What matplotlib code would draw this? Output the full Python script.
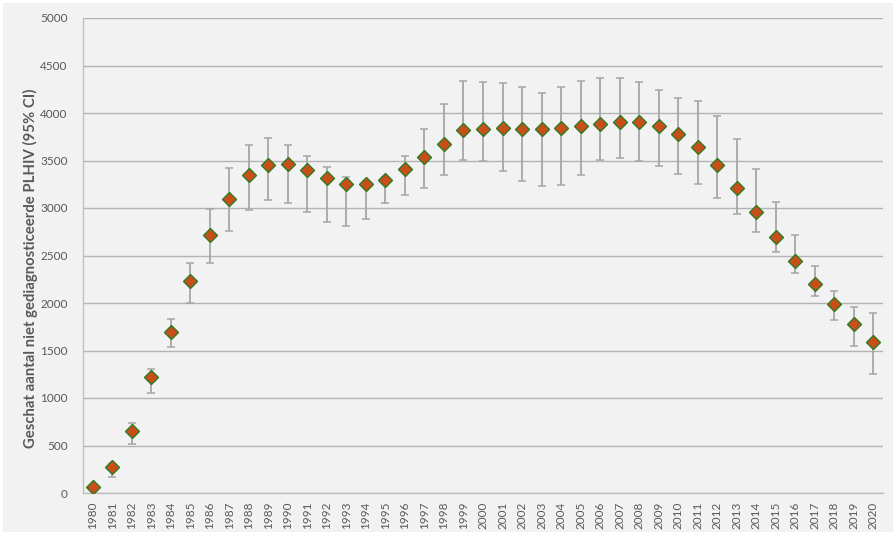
import numpy as np
import matplotlib
matplotlib.use('Agg')
import matplotlib.pyplot as plt
from matplotlib.patches import Rectangle

# jaartallen en schattingen
years = list(range(1980, 2021))
estimate = [60, 270, 656, 1224, 1698, 2231, 2716, 3095, 3344, 3456,
            3463, 3396, 3316, 3256, 3249, 3291, 3407, 3537, 3674, 3818,
            3832, 3839, 3835, 3835, 3842, 3863, 3884, 3902, 3902, 3867,
            3779, 3642, 3449, 3214, 2958, 2695, 2439, 2200, 1986, 1779,
            1586]
ci_low = [40, 168, 512, 1052, 1533, 2000, 2424, 2758, 2976, 3081,
          3053, 2954, 2849, 2811, 2888, 3049, 3140, 3214, 3344, 3509,
          3495, 3386, 3288, 3235, 3246, 3344, 3509, 3526, 3495, 3442,
          3361, 3249, 3105, 2940, 2744, 2533, 2319, 2077, 1825, 1551,
          1249]
ci_high = [80, 310, 740, 1305, 1828, 2421, 2989, 3418, 3667, 3733,
           3660, 3544, 3428, 3330, 3285, 3330, 3551, 3835, 4098, 4333,
           4330, 4319, 4274, 4207, 4277, 4333, 4365, 4368, 4330, 4239,
           4158, 4123, 3972, 3726, 3411, 3063, 2719, 2393, 2130, 1961,
           1898]

plt.rcParams['font.family'] = ['Lato', 'DejaVu Sans']

bg = '#f2f2f2'
txt = '#595959'
grid = '#b3b3b3'

fig = plt.figure(figsize=(8.96, 5.38), dpi=100)
fig.patch.set_facecolor('white')
fig.patches.append(Rectangle((3/896, 6/538), 890/896, 529/538, transform=fig.transFigure,
                             facecolor=bg, edgecolor='none', zorder=-1))
ax = fig.add_axes([83/896, 45/538, 800/896, 475/538])
ax.set_facecolor(bg)

x = np.arange(len(years))
est = np.array(estimate)
yerr = [est - np.array(ci_low), np.array(ci_high) - est]

ax.errorbar(x, est, yerr=yerr, fmt='none', ecolor='#a6a6a6', elinewidth=1.3,
            capsize=2.6, capthick=1.1, zorder=3)
ax.plot(x, est, linestyle='none', marker='D', markersize=7.6,
        markerfacecolor='#c84f1a', markeredgecolor='#2f7a24', markeredgewidth=1.0, zorder=4)

ax.set_xlim(-0.5, len(years) - 0.5)
ax.set_ylim(0, 5000)
ax.set_yticks(np.arange(0, 5001, 500))
ax.set_xticks(x)
ax.set_xticklabels([str(y) for y in years], rotation=90)
ax.tick_params(axis='x', length=0, pad=6, labelsize=8.5, labelcolor=txt)
ax.tick_params(axis='y', length=0, pad=11, labelsize=8.5, labelcolor=txt)

ax.grid(axis='y', color=grid, linewidth=1.0)
ax.set_axisbelow(True)
for s in ['top', 'right']:
    ax.spines[s].set_visible(False)
ax.spines['left'].set_color('#bfbfbf')
ax.spines['bottom'].set_color('#bfbfbf')
ax.spines['left'].set_linewidth(1.0)
ax.spines['bottom'].set_linewidth(1.0)

ax.set_ylabel('Geschat aantal niet gediagnosticeerde PLHIV (95% CI)', fontsize=10.7,
              fontweight='bold', color=txt)
ax.yaxis.set_label_coords(-0.056, 0.474)

fig.savefig('out.png', dpi=100, facecolor=fig.get_facecolor())
